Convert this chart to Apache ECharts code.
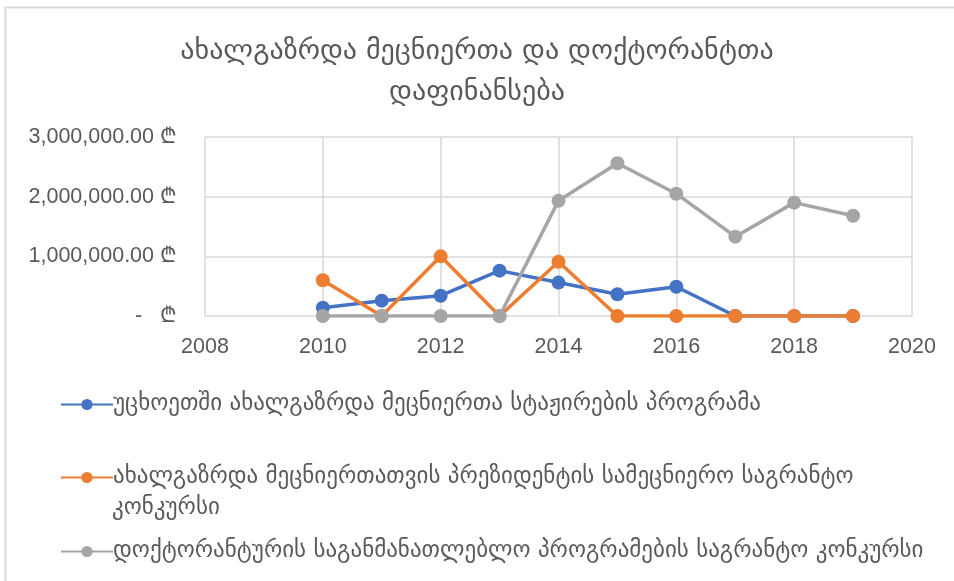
<!DOCTYPE html>
<html>
<head>
<meta charset="utf-8">
<script src="https://cdn.jsdelivr.net/npm/echarts@6/dist/echarts.min.js"></script>
<style>
html,body{margin:0;padding:0;background:#fff;}
#chart{width:954px;height:581px;}
</style>
</head>
<body>
<div id="chart"></div>
<script>
const titleText = "ახალგაზრდა მეცნიერთა და დოქტორანტთა\nდაფინანსება";
const years = [2010, 2011, 2012, 2013, 2014, 2015, 2016, 2017, 2018, 2019];
const seriesNames = [
  "უცხოეთში ახალგაზრდა მეცნიერთა სტაჟირების პროგრამა",
  "ახალგაზრდა მეცნიერთათვის პრეზიდენტის სამეცნიერო საგრანტო კონკურსი",
  "დოქტორანტურის საგანმანათლებლო პროგრამების საგრანტო კონკურსი"
];
const abroadInternship = [139000, 257000, 340000, 760000, 560000, 364000, 490000, 0, 0, 0];
const presidentGrant = [600000, 0, 1000000, 0, 910000, 0, 0, 0, 0, 0];
const doctoralGrant = [0, 0, 0, 0, 1930000, 2560000, 2050000, 1330000, 1900000, 1680000];
const xTicks = [2008, 2010, 2012, 2014, 2016, 2018, 2020];
const yTicks = [0, 1000000, 2000000, 3000000];

const colors = ['#4472C4', '#ED7D31', '#A5A5A5'];
const valuesList = [abroadInternship, presidentGrant, doctoralGrant];
const geoFont = "'DejaVu Sans', 'Noto Sans', sans-serif";
const numFont = "'Liberation Sans', 'DejaVu Sans', sans-serif";

function fmtY(v) {
  if (v === 0) return '-   ₾';
  return v.toLocaleString('en-US', {minimumFractionDigits: 2, maximumFractionDigits: 2}) + ' ₾';
}

const chart = echarts.init(document.getElementById('chart'), null, {renderer: 'canvas'});

const series = valuesList.map((vals, i) => ({
  name: seriesNames[i],
  type: 'line',
  data: years.map((y, j) => [y, vals[j]]),
  symbol: 'circle',
  symbolSize: 14,
  lineStyle: {width: 3.5, color: colors[i]},
  itemStyle: {color: colors[i]},
  z: 2 + i
}));

const legendTops = [401, 474, 548];
const legends = seriesNames.map((n, i) => ({
  data: [n],
  orient: 'vertical',
  left: 60,
  top: legendTops[i] - 13,
  itemWidth: 52,
  itemHeight: 14,
  itemGap: 0,
  padding: [5, 0],
  formatter: function (name) {
    return i === 1 ? "ახალგაზრდა მეცნიერთათვის პრეზიდენტის სამეცნიერო საგრანტო" : name;
  },
  textStyle: {fontFamily: geoFont, fontSize: 23, color: '#595959', padding: [0, 0, 0, -5]},
  selectedMode: false
}));

chart.setOption({
  animation: false,
  backgroundColor: '#fff',
  title: {
    text: titleText,
    left: 'center',
    top: 26,
    textStyle: {fontFamily: geoFont, fontSize: 28, fontWeight: 'normal', color: '#595959', lineHeight: 41, align: 'center'}
  },
  legend: legends,
  grid: {left: 205, right: 42, top: 137, bottom: 265, containLabel: false},
  xAxis: {
    type: 'value',
    min: 2008,
    max: 2020,
    interval: 2,
    axisLine: {show: false},
    axisTick: {show: false},
    splitLine: {show: true, lineStyle: {color: '#D9D9D9', width: 1.5}},
    axisLabel: {fontFamily: numFont, fontSize: 21.5, color: '#595959', margin: 20, formatter: v => String(v)}
  },
  yAxis: {
    type: 'value',
    min: 0,
    max: 3000000,
    interval: 1000000,
    axisLine: {show: false},
    axisTick: {show: false},
    splitLine: {show: true, lineStyle: {color: '#D9D9D9', width: 1.5}},
    axisLabel: {fontFamily: numFont, fontSize: 21.5, color: '#595959', margin: 28, formatter: fmtY}
  },
  graphic: [
    {type: 'rect', shape: {x: 5.5, y: 7.5, width: 2000, height: 2000}, style: {fill: 'none', stroke: '#D9D9D9', lineWidth: 2}, silent: true, z: -1},
    {type: 'text', left: 112, top: 497, style: {text: "კონკურსი", font: "23px 'DejaVu Sans', sans-serif", fill: '#595959'}}
  ],
  series: series
});
</script>
</body>
</html>
